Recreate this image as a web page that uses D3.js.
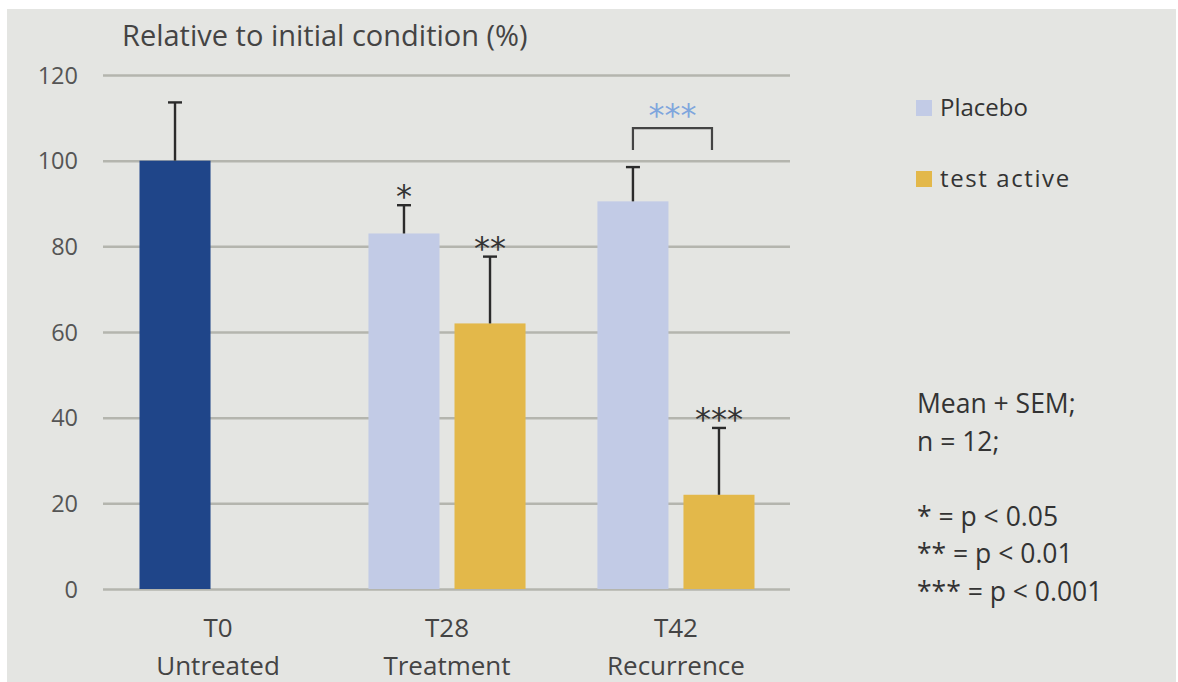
<!DOCTYPE html>
<html>
<head>
<meta charset="utf-8">
<script src="https://cdn.jsdelivr.net/npm/d3@7"></script>
<style>
  body { margin: 0; background: #fff; }
  svg { display: block; font-family: "Open Sans", sans-serif; }
</style>
</head>
<body>
<svg id="chart" width="1178" height="682"></svg>
<script>
// data
const categories = ["T0", "T28", "T42"];
const phases = ["Untreated", "Treatment", "Recurrence"];
const series = ["Placebo", "test active"];
const placeboMean = [100, 83, 90.5];
const placeboSem = [13.6, 6.6, 8];
const activeMean = [null, 62, 22];
const activeSem = [null, 15.6, 15.6];
const placeboStars = ["", "*", ""];
const activeStars = ["", "**", "***"];
const yTicks = [0, 20, 40, 60, 80, 100, 120];
const notes = ["Mean + SEM;", "n = 12;", "", "* = p < 0.05", "** = p < 0.01", "*** = p < 0.001"];

const colors = { "Untreated": "#1f4589", "Placebo": "#c2cbe6", "test active": "#e3b84a" };

const svg = d3.select("#chart");
svg.append("rect").attr("x", 7).attr("y", 9).attr("width", 1169).attr("height", 673).attr("fill", "#e4e5e2");

const y = d3.scaleLinear().domain([0, 120]).range([589, 75]);
const x = d3.scaleBand().domain(categories).range([139.5, 754.5]).paddingInner(0.314).paddingOuter(0);
const xs = d3.scaleBand().domain(series).range([0, x.bandwidth()]).paddingInner(0.1744).paddingOuter(0);

// grid + y labels
const yAxis = svg.append("g").attr("transform", "translate(103,0)")
  .call(d3.axisLeft(y).tickValues(yTicks).tickSize(-687).tickPadding(25));
yAxis.select(".domain").remove();
yAxis.selectAll("line").attr("stroke", "#b4b5ae").attr("stroke-width", 2.5);
yAxis.selectAll("text").attr("fill", "#555").attr("font-size", 23.5).attr("font-family", "Open Sans").attr("dy", "0.35em");

svg.append("text").attr("x", 122).attr("y", 46).attr("fill", "#444").attr("font-size", 29)
  .text("Relative to initial condition (%)");

// flatten bars
const bars = [];
categories.forEach((c, i) => {
  bars.push({ cat: c, s: "Placebo", v: placeboMean[i], e: placeboSem[i], star: placeboStars[i], fill: i === 0 ? colors["Untreated"] : colors["Placebo"] });
  if (activeMean[i] != null)
    bars.push({ cat: c, s: "test active", v: activeMean[i], e: activeSem[i], star: activeStars[i], fill: colors["test active"] });
});
const cx = d => x(d.cat) + xs(d.s) + xs.bandwidth() / 2;

svg.append("g").selectAll("rect").data(bars).join("rect")
  .attr("x", d => x(d.cat) + xs(d.s))
  .attr("y", d => y(d.v))
  .attr("width", xs.bandwidth())
  .attr("height", d => y(0) - y(d.v))
  .attr("fill", d => d.fill);

const err = svg.append("g").attr("stroke", "#2b2b2b").attr("stroke-width", 2.4);
err.selectAll("line.v").data(bars).join("line").attr("class", "v")
  .attr("x1", cx).attr("x2", cx).attr("y1", d => y(d.v)).attr("y2", d => y(d.v + d.e));
err.selectAll("line.c").data(bars).join("line").attr("class", "c")
  .attr("x1", d => cx(d) - 7).attr("x2", d => cx(d) + 7).attr("y1", d => y(d.v + d.e)).attr("y2", d => y(d.v + d.e));

svg.append("g").selectAll("text").data(bars.filter(d => d.star)).join("text")
  .attr("x", cx).attr("y", d => y(d.v + d.e) + 2)
  .attr("text-anchor", "middle").attr("fill", "#333").attr("font-size", 32).attr("font-family", "DejaVu Sans")
  .text(d => d.star);

// bracket T42 placebo vs active
const bx1 = x("T42") + xs("Placebo") + xs.bandwidth() / 2;
const bx2 = x("T42") + xs("test active") + xs.bandwidth() / 2 - 7;
svg.append("path")
  .attr("d", `M${bx1},${y(102.5)}V${y(107.6)}H${bx2}V${y(102.5)}`)
  .attr("fill", "none").attr("stroke", "#444").attr("stroke-width", 2.2);
svg.append("text").attr("x", (bx1 + bx2) / 2).attr("y", y(107.6) - 2)
  .attr("text-anchor", "middle").attr("fill", "#7fa6dd").attr("font-size", 32).attr("font-family", "DejaVu Sans")
  .text("***");

// x labels
const xl = svg.append("g").attr("fill", "#444").attr("font-size", 26).attr("text-anchor", "middle");
xl.selectAll("text.c").data(categories).join("text").attr("class", "c")
  .attr("x", d => x(d) + x.bandwidth() / 2).attr("y", 637).text(d => d);
xl.selectAll("text.p").data(phases).join("text").attr("class", "p")
  .attr("x", (d, i) => x(categories[i]) + x.bandwidth() / 2).attr("y", 675).text(d => d);

// legend
const lg = svg.append("g").selectAll("g").data(series).join("g")
  .attr("transform", (d, i) => `translate(916,${100 + i * 71})`);
lg.append("rect").attr("width", 16).attr("height", 16).attr("fill", d => colors[d]);
lg.append("text").attr("x", 24).attr("y", 8).attr("dy", "0.35em").attr("font-size", 24).attr("fill", "#333")
  .attr("font-weight", (d, i) => i === 1 ? 500 : 400)
  .attr("letter-spacing", (d, i) => i === 1 ? 1.6 : 0)
  .text(d => d);

// notes
svg.append("g").selectAll("text").data(notes).join("text")
  .attr("x", 917).attr("y", (d, i) => 413 + i * 37.6)
  .attr("font-size", 26.5).attr("fill", "#333").text(d => d);
</script>
</body>
</html>
